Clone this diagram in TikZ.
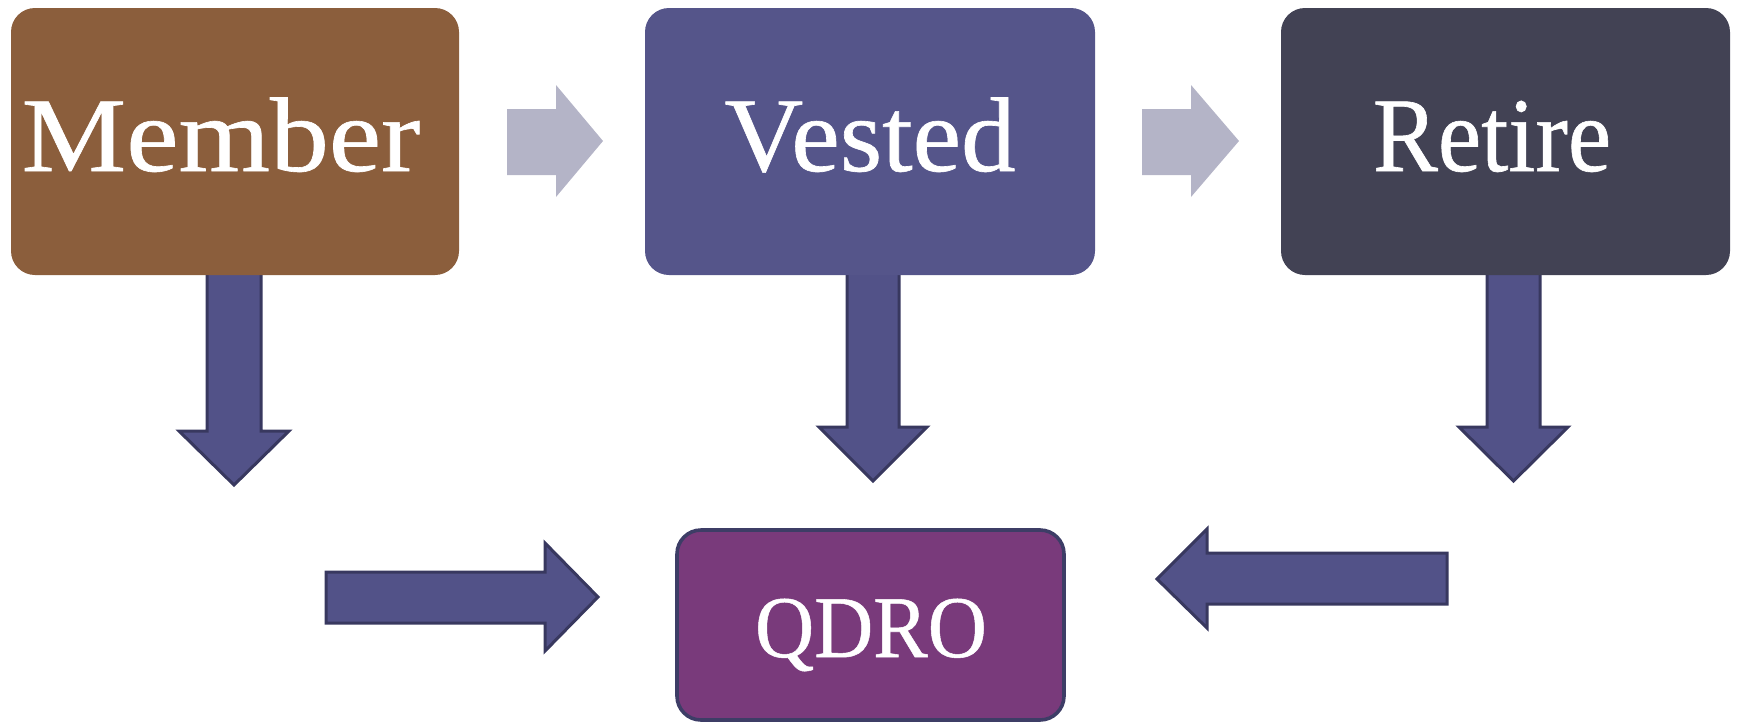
\documentclass[tikz,border=0pt]{standalone}
\usepackage{fontspec}
\setmainfont{Liberation Serif}
\newfontfamily\labelfont[FakeBold=0.6]{Liberation Serif}
\definecolor{memberfill}{HTML}{8B5E3C}
\definecolor{vestedfill}{HTML}{55558A}
\definecolor{retirefill}{HTML}{424254}
\definecolor{qdrofill}{HTML}{793A7B}
\definecolor{qdroline}{HTML}{3D3D66}
\definecolor{arrowfill}{HTML}{525288}
\definecolor{arrowline}{HTML}{38385F}
\definecolor{grayarrow}{HTML}{B4B4C7}
\tikzset{
  box/.style={rectangle, rounded corners=12pt, inner sep=0pt},
  bigtext/.style={text=white, font=\labelfont\fontsize{53}{60}\selectfont, anchor=base, inner sep=0pt},
  smalltext/.style={text=white, font=\labelfont\fontsize{44}{50}\selectfont, anchor=base, inner sep=0pt},
  blockarrow/.style={fill=arrowfill, draw=arrowline, line width=1.5pt, line join=miter},
  softarrow/.style={fill=grayarrow, draw=none},
}
\begin{document}
\begin{tikzpicture}[x=0.5pt, y=-0.5pt]
\useasboundingbox (0,0) rectangle (1739,723);
% block arrows (drawn first so the boxes cover the stem tops)
\draw[blockarrow] (207,272) -- (261,272) -- (261,431) -- (289,431) -- (234,485) -- (179,431) -- (207,431) -- cycle;
\draw[blockarrow] (847,272) -- (899,272) -- (899,427) -- (927,427) -- (873,481) -- (819,427) -- (847,427) -- cycle;
\draw[blockarrow] (1487,272) -- (1540,272) -- (1540,427) -- (1568,427) -- (1513.5,481) -- (1459,427) -- (1487,427) -- cycle;
\draw[blockarrow] (326,572) -- (545,572) -- (545,543) -- (598,597) -- (545,651) -- (545,623) -- (326,623) -- cycle;
\draw[blockarrow] (1447,553) -- (1207,553) -- (1207,529) -- (1157,579) -- (1207,628) -- (1207,604) -- (1447,604) -- cycle;
% gray arrows
\fill[softarrow] (507,109) -- (556,109) -- (556,85) -- (603,141) -- (556,197) -- (556,175) -- (507,175) -- cycle;
\fill[softarrow] (1142,109) -- (1191,109) -- (1191,85) -- (1239,141) -- (1191,197) -- (1191,175) -- (1142,175) -- cycle;
% boxes
\node[box, fill=memberfill, minimum width=224pt, minimum height=133.5pt] (member) at (235,141.5) {};
\node[box, fill=vestedfill, minimum width=225pt, minimum height=133.5pt] (vested) at (870,141.5) {};
\node[box, fill=retirefill, minimum width=224.5pt, minimum height=133.5pt] (retire) at (1505.5,141.5) {};
\node[box, fill=qdrofill, draw=qdroline, line width=1.8pt, minimum width=193.5pt, minimum height=95pt] (qdro) at (870.5,625) {};
% labels
\node[bigtext] (membertext) at (221,171) {\scalebox{1.11}[1]{Member}};
\node[bigtext] (vestedtext) at (870,171) {\scalebox{1.03}[1]{Vested}};
\node[bigtext] (retiretext) at (1492,171) {\scalebox{0.92}[1]{Retire}};
\node[smalltext] (qdrotext) at (871,657) {\scalebox{0.93}[1]{QDRO}};
\end{tikzpicture}
\end{document}
